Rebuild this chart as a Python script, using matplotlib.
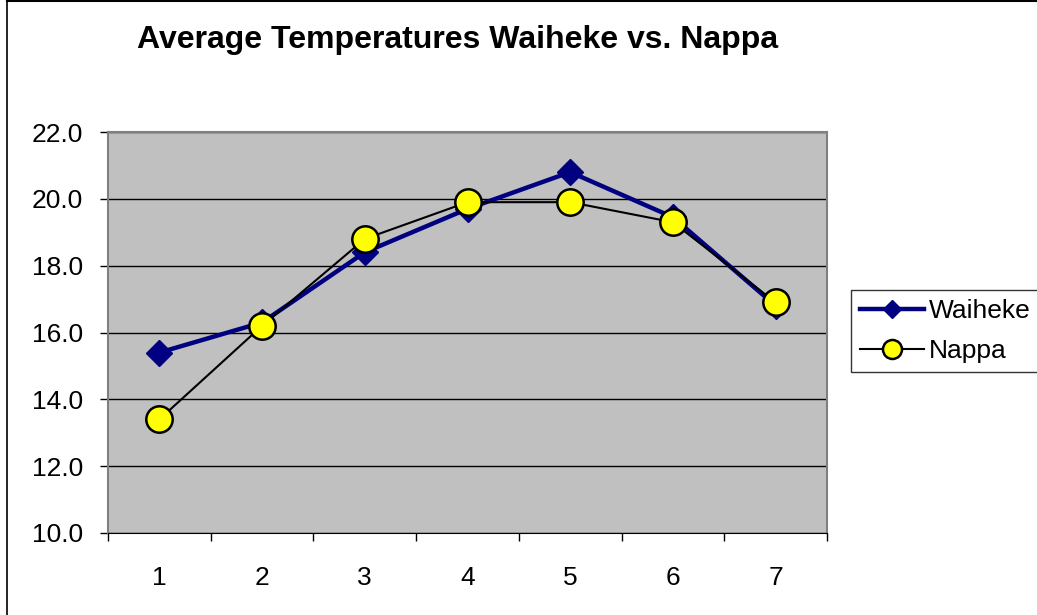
import matplotlib
matplotlib.use("Agg")
from matplotlib import pyplot
from matplotlib.lines import Line2D
import numpy as np

pyplot.rcParams['font.family'] = ['Liberation Sans', 'DejaVu Sans']

# data
months = [1, 2, 3, 4, 5, 6, 7]
waiheke = [15.4, 16.3, 18.4, 19.7, 20.8, 19.45, 16.8]
nappa = [13.4, 16.2, 18.8, 19.9, 19.9, 19.3, 16.9]
y_ticks = [10.0, 12.0, 14.0, 16.0, 18.0, 20.0, 22.0]
title = 'Average Temperatures Waiheke vs. Nappa'

dpi = 100.
W, H = 1037., 615.
fig = pyplot.figure(figsize=(W/dpi, H/dpi), dpi=dpi)
fig.patch.set_facecolor('white')

# chart border (only left and top visible in the crop)
fig.add_artist(Line2D([7/W, 7/W], [0, 1 - 1/H], transform=fig.transFigure, color='black', lw=1.2))
fig.add_artist(Line2D([7/W, 1], [1 - 1/H, 1 - 1/H], transform=fig.transFigure, color='black', lw=1.5))

ax = fig.add_axes([108/W, 1 - 533/H, (827-108)/W, (533-132)/H])
ax.set_facecolor('#C0C0C0')

ax.plot(months, waiheke, color='#000080', lw=3.2, marker='D', ms=13,
        markerfacecolor='#000080', markeredgecolor='#000080', label='Waiheke', zorder=3)
ax.plot(months, nappa, color='black', lw=1.5, marker='o', ms=19,
        markerfacecolor='#FFFF00', markeredgecolor='black', markeredgewidth=1.8,
        label='Nappa', zorder=4)

ax.set_xlim(0.5, 7.5)
ax.set_ylim(10, 22)
ax.set_yticks(y_ticks)
ax.set_yticklabels(['%.1f' % v for v in y_ticks], fontsize=19)
ax.yaxis.grid(True, color='black', lw=1.0)
ax.set_axisbelow(True)

# category axis: labels at centres, tick marks at boundaries
ax.set_xticks(months)
ax.set_xticklabels([str(m) for m in months], fontsize=19)
ax.tick_params(axis='x', which='major', length=0, pad=24)
ax.set_xticks(np.arange(0.5, 8.0, 1.0), minor=True)
ax.tick_params(axis='x', which='minor', length=6, width=1, direction='out')
ax.tick_params(axis='y', length=6, width=1, direction='out', pad=12)

for side in ['top', 'right', 'left']:
    ax.spines[side].set_color('#808080')
    ax.spines[side].set_linewidth(1.5)
ax.spines['bottom'].set_color('black')

fig.text(458/W, 1 - 40/H, title, ha='center', va='center', fontsize=23, fontweight='bold')

leg = ax.legend(loc='upper left', bbox_to_anchor=(851/W, 1 - 290/H),
                bbox_transform=fig.transFigure, fontsize=19,
                frameon=True, fancybox=False, borderpad=0.35, handlelength=2.4,
                handletextpad=0.2, labelspacing=0.6, borderaxespad=0)
leg.get_frame().set_edgecolor('black')
leg.get_frame().set_linewidth(1.0)
for h in leg.legend_handles:
    h.set_markersize(h.get_markersize() * 0.72)

pyplot.savefig('out.png', dpi=dpi)
pyplot.close()
